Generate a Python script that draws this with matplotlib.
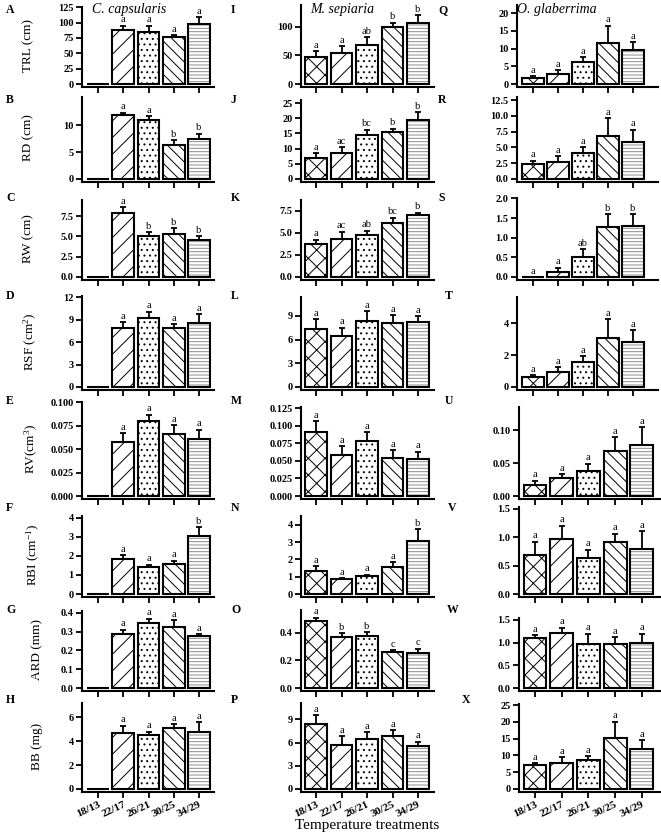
import numpy as np
import matplotlib
matplotlib.use('Agg')
import matplotlib.pyplot as plt

plt.rcParams['font.family'] = ['Liberation Serif', 'DejaVu Serif']
plt.rcParams['mathtext.fontset'] = 'custom'
plt.rcParams['mathtext.rm'] = 'Liberation Serif'
plt.rcParams['mathtext.it'] = 'Liberation Serif:italic'
plt.rcParams['hatch.linewidth'] = 0.7

# ---- data ----
temps = ['18/13', '22/17', '26/21', '30/25', '34/29']
species = ['C. capsularis', 'M. sepiaria', 'O. glaberrima']
traits = ['TRL (cm)', 'RD (cm)', 'RW (cm)', 'RSF (cm$^2$)', 'RV(cm$^3$)',
          'RBI (cm$^{-1}$)', 'ARD (mm)', 'BB (mg)']
panel_ids = ['ABCDEFGH', 'IJKLMNOP', 'QRSTUVWX']

cc_means = [[0, 88, 85, 77, 97],
            [0, 11.8, 11.0, 6.3, 7.4],
            [0, 7.9, 5.0, 5.3, 4.6],
            [0, 7.9, 9.2, 7.9, 8.6],
            [0, 0.058, 0.080, 0.066, 0.061],
            [0, 1.82, 1.42, 1.57, 3.05],
            [0, 0.285, 0.345, 0.325, 0.278],
            [0, 4.7, 4.5, 5.1, 4.75]]
cc_se = [[0, 7, 10, 3, 12],
         [0, 0.5, 0.6, 0.9, 1.0],
         [0, 0.7, 0.5, 0.7, 0.4],
         [0, 0.8, 0.9, 0.5, 1.2],
         [0, 0.009, 0.007, 0.010, 0.010],
         [0, 0.23, 0.13, 0.18, 0.45],
         [0, 0.025, 0.025, 0.035, 0.007],
         [0, 0.6, 0.3, 0.35, 0.85]]
cc_letters = [['', 'a', 'a', 'a', 'a'],
              ['', 'a', 'a', 'b', 'b'],
              ['', 'a', 'b', 'b', 'b'],
              ['', 'a', 'a', 'a', 'a'],
              ['', 'a', 'a', 'a', 'a'],
              ['', 'a', 'a', 'a', 'b'],
              ['', 'a', 'a', 'a', 'a'],
              ['', 'a', 'a', 'a', 'a']]
cc_ticks = [[0, 25, 50, 75, 100, 125], [0, 5, 10], [0, 2.5, 5, 7.5],
            [0, 3, 6, 9, 12], [0, 0.025, 0.05, 0.075, 0.1], [0, 1, 2, 3, 4],
            [0, 0.1, 0.2, 0.3, 0.4], [0, 2, 4, 6]]
cc_dec = [0, 0, 1, 0, 3, 0, 1, 0]

ms_means = [[48, 55, 69, 99, 107],
            [7.0, 8.7, 14.4, 15.4, 19.3],
            [3.7, 4.3, 4.8, 6.1, 7.0],
            [7.3, 6.4, 8.3, 8.1, 8.2],
            [0.091, 0.059, 0.079, 0.054, 0.053],
            [1.35, 0.85, 1.05, 1.55, 3.1],
            [0.49, 0.37, 0.38, 0.26, 0.255],
            [8.4, 5.7, 6.5, 6.8, 5.55]]
ms_se = [[9, 11, 13, 8, 13],
         [1.5, 1.7, 1.8, 1.1, 2.7],
         [0.5, 0.8, 0.45, 0.6, 0.25],
         [1.3, 1.1, 1.3, 1.0, 0.8],
         [0.016, 0.012, 0.012, 0.011, 0.010],
         [0.25, 0.05, 0.07, 0.3, 0.65],
         [0.02, 0.03, 0.025, 0.015, 0.03],
         [1.1, 1.1, 0.8, 0.8, 0.55]]
ms_letters = [['a', 'a', 'ab', 'b', 'b'],
              ['a', 'ac', 'bc', 'b', 'b'],
              ['a', 'ac', 'ab', 'bc', 'b'],
              ['a', 'a', 'a', 'a', 'a'],
              ['a', 'a', 'a', 'a', 'a'],
              ['a', 'a', 'a', 'a', 'b'],
              ['a', 'b', 'b', 'c', 'c'],
              ['a', 'a', 'a', 'a', 'a']]
ms_ticks = [[0, 50, 100], [0, 5, 10, 15, 20, 25], [0, 2.5, 5, 7.5],
            [0, 3, 6, 9], [0, 0.025, 0.05, 0.075, 0.1, 0.125], [0, 1, 2, 3, 4],
            [0, 0.2, 0.4], [0, 3, 6, 9]]
ms_dec = [0, 0, 1, 0, 3, 0, 1, 0]

og_means = [[1.7, 2.9, 6.2, 11.5, 9.5],
            [2.3, 2.7, 4.1, 6.8, 5.9],
            [0, 0.13, 0.5, 1.27, 1.3],
            [0.6, 0.95, 1.55, 3.1, 2.85],
            [0.017, 0.028, 0.038, 0.068, 0.077],
            [0.68, 0.97, 0.63, 0.92, 0.8],
            [1.1, 1.22, 0.97, 0.97, 0.99],
            [7.2, 7.7, 8.5, 15.3, 12.0]]
og_se = [[0.5, 1.0, 1.3, 5.0, 2.3],
         [0.6, 0.9, 0.9, 2.8, 1.9],
         [0, 0.11, 0.2, 0.33, 0.3],
         [0.15, 0.3, 0.4, 1.15, 0.7],
         [0.006, 0.005, 0.011, 0.021, 0.027],
         [0.24, 0.23, 0.15, 0.14, 0.3],
         [0.07, 0.11, 0.23, 0.15, 0.21],
         [0.4, 1.8, 1.2, 4.7, 2.5]]
og_letters = [['a', 'a', 'a', 'a', 'a'],
              ['a', 'a', 'a', 'a', 'a'],
              ['a', 'a', 'ab', 'b', 'b'],
              ['a', 'a', 'a', 'a', 'a'],
              ['a', 'a', 'a', 'a', 'a'],
              ['a', 'a', 'a', 'a', 'a'],
              ['a', 'a', 'a', 'a', 'a'],
              ['a', 'a', 'a', 'a', 'a']]
og_ticks = [[0, 5, 10, 15, 20], [0, 2.5, 5, 7.5, 10, 12.5], [0, 0.5, 1, 1.5, 2],
            [0, 2, 4], [0, 0.05, 0.1], [0, 0.5, 1, 1.5],
            [0, 0.5, 1, 1.5], [0, 5, 10, 15, 20, 25]]
og_dec = [0, 1, 1, 0, 2, 1, 1, 0]

# ---- layout (pixels) ----
W, H = 661, 836
row_zero = [84, 179, 277, 387, 496, 594, 688, 789]
col_top = [[7, 97, 200, 296, 402, 516, 611, 703],
           [5, 100, 200, 297, 407, 516, 610, 703],
           [5, 97, 198, 297, 407, 507, 618, 704]]
col_ymax = [[125.5, 15.2, 9.47, 12.2, 0.1005, 4.1, 0.41, 7.2],
            [138, 26, 8.7, 11.4, 0.127, 4.52, 0.567, 11.1],
            [22.3, 13.0, 2.01, 5.65, 0.135, 1.53, 1.544, 25.3]]
gap = 3  # x axis line sits a few pixels below zero
# spine x, first tick x, tick spacing, axis end x
col_x = [[(82, 98, 25.25, 214)] * 8,
         [(301, 316, 25.5, 434)] * 8,
         [(517, 533, 25.0, 658)] * 4 + [(519, 535, 26.7, 661)] * 4]
label_x = [[6] * 8, [231] * 8, [438, 438, 438, 445, 445, 448, 447, 462]]
label_y = [10, 100, 198, 296, 401, 508, 610, 700]
ylabel_x = [28, 28, 28, 30, 31, 33, 37, 37]

hatches = ['xx', '//', '...', '\\\\\\', '-----']
hatch_cols = ['black', 'black', 'black', 'black', '#8c8c8c']

fig = plt.figure(figsize=(W / 100, H / 100), dpi=100)

columns = [(cc_means, cc_se, cc_letters, cc_ticks, cc_dec),
           (ms_means, ms_se, ms_letters, ms_ticks, ms_dec),
           (og_means, og_se, og_letters, og_ticks, og_dec)]

x = np.arange(len(temps))
for c, (means, ses, letters, ticks, decs) in enumerate(columns):
    for r in range(8):
        sx, fx, sp, ex = col_x[c][r]
        top, zero = col_top[c][r], row_zero[r]
        ymax = col_ymax[c][r]
        ymin = -gap * ymax / (zero - top)
        ax = fig.add_axes([sx / W, 1 - (zero + gap) / H, (ex - sx) / W,
                           (zero + gap - top) / H])
        m = means[r]
        s = ses[r]
        for xi, mi, h, hc in zip(x, m, hatches, hatch_cols):
            ax.bar(xi, mi, width=0.86, color='white', edgecolor=hc, hatch=h,
                   linewidth=0, zorder=2)
        ax.bar(x, m, width=0.86, fill=False, edgecolor='black', linewidth=1.5, zorder=3)
        ax.errorbar(x, m, yerr=[np.zeros(5), s], fmt='none', ecolor='black',
                    elinewidth=1.3, capsize=2.5, capthick=1.3, zorder=4)
        for xi, mi, si, lt in zip(x, m, s, letters[r]):
            if lt:
                ax.annotate(lt, (xi, mi + si), xytext=(0, 1), textcoords='offset points',
                            ha='center', va='bottom', fontsize=7.5)
        ax.set_xlim((sx - fx) / sp, (ex - fx) / sp)
        ax.set_ylim(ymin, ymax)
        ax.set_yticks(ticks[r], labels=['%.*f' % (decs[r], v) for v in ticks[r]],
                      fontweight='bold')
        if r == 7:
            ax.set_xticks(x, labels=temps, rotation=25, ha='right',
                          rotation_mode='anchor', fontweight='bold', fontsize=8)
        else:
            ax.set_xticks(x, labels=[])
        for side in ['top', 'right']:
            ax.spines[side].set_visible(False)
        for side in ['left', 'bottom']:
            ax.spines[side].set_linewidth(1.5)
        ax.tick_params(axis='y', direction='out', length=4, width=1.3, labelsize=7.5, pad=2)
        ax.tick_params(axis='x', direction='out', length=4, width=1.3, pad=2)
        fig.text(label_x[c][r] / W, 1 - label_y[r] / H, panel_ids[c][r],
                 fontsize=8.5, fontweight='bold', va='center', ha='left')
        if c == 0:
            fig.text(ylabel_x[r] / W, 1 - (zero + top) / 2 / H, traits[r],
                     rotation=90, fontsize=9.5, ha='center', va='center')

# species names
fig.text(92 / W, 1 - 9 / H, species[0], style='italic', fontsize=10, va='center')
fig.text(310 / W, 1 - 9 / H, species[1], style='italic', fontsize=10, va='center')
fig.text(517 / W, 1 - 9 / H, species[2], style='italic', fontsize=10, va='center')

fig.text(367 / W, 1 - 826 / H, 'Temperature treatments', fontsize=11,
         ha='center', va='center')

fig.savefig('out.png', dpi=100)
